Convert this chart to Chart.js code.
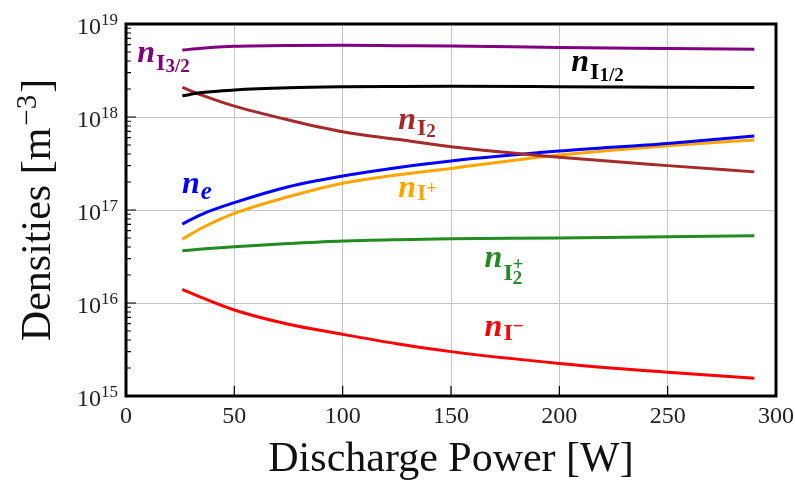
<!DOCTYPE html>
<html><head><meta charset="utf-8">
<script src="https://cdn.jsdelivr.net/npm/chart.js@4/dist/chart.umd.min.js"></script>
<style>html,body{margin:0;padding:0;background:#fff}#wrap{width:795px;height:485px;position:relative}</style>
</head><body><div id="wrap"><canvas id="c" width="795" height="485"></canvas></div>
<script>
// ---- data ----
const power = [26, 35, 50, 75, 100, 125, 150, 200, 250, 290];
const nI32  = [5.25e18, 5.5e18, 5.75e18, 5.88e18, 5.9e18, 5.85e18, 5.8e18, 5.6e18, 5.45e18, 5.35e18];
const nI12  = [1.69e18, 1.83e18, 1.95e18, 2.06e18, 2.11e18, 2.13e18, 2.14e18, 2.12e18, 2.09e18, 2.07e18];
const nI2   = [2.08e18, 1.72e18, 1.31e18, 9.3e17, 6.95e17, 5.75e17, 4.8e17, 3.7e17, 3.0e17, 2.57e17];
const nE    = [7.06e16, 9.0e16, 1.2e17, 1.78e17, 2.32e17, 2.85e17, 3.37e17, 4.3e17, 5.2e17, 6.25e17];
const nIp   = [4.85e16, 6.4e16, 9.2e16, 1.39e17, 1.94e17, 2.38e17, 2.8e17, 3.9e17, 4.9e17, 5.66e17];
const nI2p  = [3.65e16, 3.8e16, 4.03e16, 4.35e16, 4.64e16, 4.8e16, 4.9e16, 5.0e16, 5.17e16, 5.3e16];
const nIm   = [1.4e16, 1.14e16, 8.4e15, 5.9e15, 4.6e15, 3.65e15, 3.0e15, 2.24e15, 1.8e15, 1.55e15];
const xTickValues = [0, 50, 100, 150, 200, 250, 300];
const yTickValues = [1e15, 1e16, 1e17, 1e18, 1e19];
const yTickExponents = ['15', '16', '17', '18', '19'];
const xTitle = 'Discharge Power [W]';
const yTitleMain = 'Densities [m';
const yTitleSup = '\u22123';
const yTitleEnd = ']';

// ---- styling ----
const SERIF = '"Liberation Serif", "DejaVu Serif", serif';
const series = [
  {data: nI32, color: '#800080'},
  {data: nI12, color: '#000000'},
  {data: nI2,  color: '#a52a2a'},
  {data: nE,   color: '#0000ff'},
  {data: nIp,  color: '#ffa500'},
  {data: nI2p, color: '#228b22'},
  {data: nIm,  color: '#ff0000'},
];

// curve labels: anchor in data coordinates, text segments
const curveLabels = [
  {x: 5.2, y: 3.9e18, color: '#800080', segs: [
    {t: 'I', f: 'bold', s: 24, dy: 8}, {t: '3/2', f: 'bold', s: 19, dy: 10}]},
  {x: 205.5, y: 3.13e18, color: '#000000', segs: [
    {t: 'I', f: 'bold', s: 24, dy: 8}, {t: '1/2', f: 'bold', s: 19, dy: 10}]},
  {x: 125.6, y: 7.38e17, color: '#a52a2a', segs: [
    {t: 'I', f: 'bold', s: 24, dy: 6}, {t: '2', f: 'bold', s: 19, dy: 8}]},
  {x: 25.8, y: 1.51e17, color: '#0000ff', segs: [
    {t: 'e', f: 'italic bold', s: 25, dy: 6}]},
  {x: 125.6, y: 1.37e17, color: '#ffa500', segs: [
    {t: 'I', f: 'bold', s: 24, dy: 3}, {t: '+', f: 'bold', s: 19, dy: -3}]},
  {x: 165.5, y: 2.45e16, color: '#228b22', segs: [
    {t: 'I', f: 'bold', s: 24, dy: 13}, {t: '2', f: 'bold', s: 19, dy: 17, keep: true}, {t: '+', f: 'bold', s: 19, dy: 3}]},
  {x: 165.5, y: 4.42e15, color: '#ff0000', segs: [
    {t: 'I', f: 'bold', s: 24, dy: 4}, {t: '\u2212', f: 'bold', s: 19, dy: -4}]},
];

const decor = {
  id: 'decor',
  afterDraw(chart) {
    const ctx = chart.ctx, a = chart.chartArea, xs = chart.scales.x, ys = chart.scales.y;
    ctx.save();
    // inward ticks
    ctx.strokeStyle = '#000'; ctx.lineWidth = 1.2;
    ctx.beginPath();
    xTickValues.forEach(v => { const px = xs.getPixelForValue(v); ctx.moveTo(px, a.bottom); ctx.lineTo(px, a.bottom - 10); });
    for (let d = 0; d < yTickValues.length; d++) {
      const base = yTickValues[d];
      const py = ys.getPixelForValue(base);
      ctx.moveTo(a.left, py); ctx.lineTo(a.left + 10, py);
      if (d < yTickValues.length - 1) {
        for (let m = 2; m <= 9; m++) {
          const pm = ys.getPixelForValue(base * m);
          ctx.moveTo(a.left, pm); ctx.lineTo(a.left + 5, pm);
        }
      }
    }
    ctx.stroke();
    // frame
    ctx.lineWidth = 3; ctx.strokeStyle = '#000';
    ctx.strokeRect(a.left, a.top, a.right - a.left, a.bottom - a.top);
    // y tick labels 10^n
    ctx.fillStyle = '#222';
    ctx.textBaseline = 'alphabetic';
    yTickValues.forEach((v, i) => {
      const py = ys.getPixelForValue(v);
      const rx = a.left - 8;
      ctx.font = '17px ' + SERIF; ctx.textAlign = 'right';
      const sw = ctx.measureText(yTickExponents[i]).width;
      ctx.fillText(yTickExponents[i], rx, py + 1);
      ctx.font = '24px ' + SERIF;
      ctx.fillText('10', rx - sw, py + 9.5);
    });
    // y title
    ctx.save();
    ctx.translate(50, (a.top + a.bottom) / 2);
    ctx.rotate(-Math.PI / 2);
    ctx.fillStyle = '#111';
    ctx.textAlign = 'left';
    ctx.font = '42px ' + SERIF;
    const w1 = ctx.measureText(yTitleMain).width;
    const w3 = ctx.measureText(yTitleEnd).width;
    ctx.font = '29px ' + SERIF;
    const w2 = ctx.measureText(yTitleSup).width + 4;
    const x0 = -(w1 + w2 + w3) / 2;
    ctx.font = '42px ' + SERIF;
    ctx.fillText(yTitleMain, x0, 0);
    ctx.fillText(yTitleEnd, x0 + w1 + w2, 0);
    ctx.font = '29px ' + SERIF;
    ctx.fillText(yTitleSup, x0 + w1 + 2, -14);
    ctx.restore();
    // curve labels
    curveLabels.forEach(L => {
      let px = xs.getPixelForValue(L.x), py = ys.getPixelForValue(L.y);
      ctx.fillStyle = L.color; ctx.textAlign = 'left';
      ctx.font = 'italic bold 32px ' + SERIF;
      ctx.fillText('n', px, py);
      px += ctx.measureText('n').width + 1;
      L.segs.forEach(sg => {
        ctx.font = sg.f + ' ' + sg.s + 'px ' + SERIF;
        ctx.fillText(sg.t, px, py + sg.dy);
        const w = ctx.measureText(sg.t).width;
        if (!sg.keep) px += w;
      });
    });
    ctx.restore();
  }
};

const chart = new Chart(document.getElementById('c'), {
  type: 'line',
  data: {
    labels: power,
    datasets: series.map(s => ({
      data: s.data.map((v, i) => ({x: power[i], y: v})),
      borderColor: s.color, backgroundColor: s.color,
      borderWidth: 3, pointRadius: 0, fill: false,
      cubicInterpolationMode: 'monotone'
    }))
  },
  options: {
    responsive: false, animation: false, devicePixelRatio: 1,
    layout: {padding: {top: 24, right: 19, left: 0, bottom: 0}},
    plugins: {legend: {display: false}, tooltip: {enabled: false}},
    scales: {
      x: {
        type: 'linear', min: 0, max: 300,
        afterFit: s => { s.height = 89; s.paddingRight = 0; s.paddingLeft = 0; },
        afterBuildTicks: s => { s.ticks = xTickValues.map(v => ({value: v})); },
        grid: {color: '#c4c4c4', lineWidth: 1, drawTicks: false},
        border: {display: false},
        ticks: {font: {family: SERIF, size: 24}, color: '#222', padding: 6, maxRotation: 0},
        title: {display: true, text: xTitle, font: {family: SERIF, size: 42}, color: '#111', padding: {top: 0, bottom: 0}}
      },
      y: {
        type: 'logarithmic', min: 1e15, max: 1e19,
        afterFit: s => { s.width = 126; s.paddingTop = 0; s.paddingBottom = 0; },
        afterBuildTicks: s => { s.ticks = yTickValues.map(v => ({value: v, major: true})); },
        grid: {color: '#c4c4c4', lineWidth: 1, drawTicks: false},
        border: {display: false},
        ticks: {display: false}
      }
    }
  },
  plugins: [decor]
});
</script></body></html>
